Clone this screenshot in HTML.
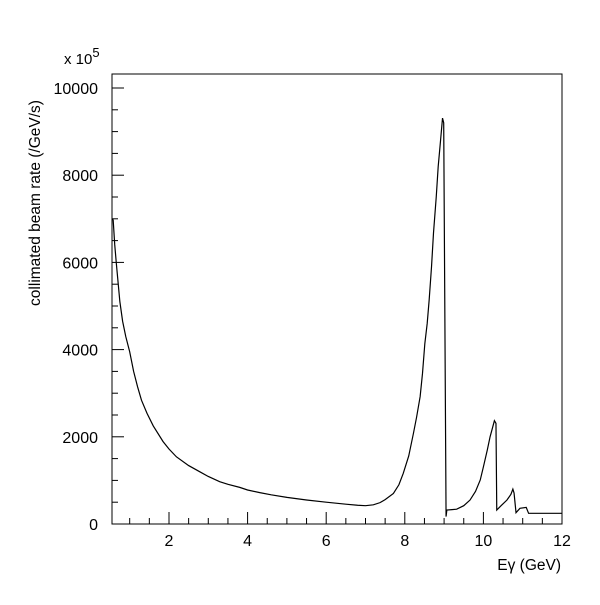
<!DOCTYPE html>
<html><head><meta charset="utf-8"><style>
body{margin:0;background:#fff}
svg text{font-family:"Liberation Sans",sans-serif;fill:#000}
</style></head><body>
<svg id="c" width="600" height="600" xmlns="http://www.w3.org/2000/svg"></svg>
<script>
const xs=[0.56,0.58,0.62,0.66,0.75,0.82,0.9,1.0,1.1,1.2,1.3,1.44,1.6,1.85,2.0,2.19,2.5,2.78,3.0,3.29,3.5,3.8,4.0,4.31,4.6,5,5.5,6,6.5,6.8,7,7.2,7.37,7.5,7.71,7.85,7.96,8.1,8.22,8.3,8.39,8.45,8.51,8.57,8.62,8.68,8.73,8.8,8.85,8.91,8.96,8.99,9.05,9.07,9.2,9.32,9.5,9.66,9.8,9.92,10.0,10.1,10.17,10.23,10.28,10.32,10.34,10.45,10.6,10.7,10.75,10.78,10.83,10.93,11.09,11.15,11.27,12];
const ys=[7000,6970,6400,5980,5100,4650,4300,3950,3500,3150,2840,2540,2250,1890,1720,1540,1340,1200,1090,970,910,840,780,720,670,610,550,500,455,430,420,440,490,560,700,900,1160,1560,2080,2450,2920,3450,4140,4600,5140,5900,6670,7500,8200,8800,9310,9200,170,320,330,340,420,550,750,1010,1310,1700,2000,2200,2370,2310,320,420,550,680,800,710,260,360,380,245,245,245];
const xTicks=[2,4,6,8,10,12];
const yTicks=[0,2000,4000,6000,8000,10000];
const X0=0.55,X1=12,L=112,R=562,T=74,B=524;
const sx=v=>L+(v-X0)*(R-L)/(X1-X0);
const sy=v=>B-v*0.0436;
const svg=document.getElementById('c');
const NS='http://www.w3.org/2000/svg';
function mk(t,a){const e=document.createElementNS(NS,t);for(const k in a)e.setAttribute(k,a[k]);svg.appendChild(e);return e;}
const fr=mk('rect',{x:L,y:T,width:R-L,height:B-T,fill:'none',stroke:'#000','stroke-width':1});


for(let v=1;v<=12;v+=0.5){if(v<X0)continue;const x=sx(v);const big=Number.isInteger(v)&&v%2==0;
const t=mk('line',{x1:x,x2:x,y1:B,y2:B-(big?12:6),stroke:'#000'});

}
xTicks.forEach(v=>{const t=mk('text',{x:sx(v),y:B+22,'text-anchor':'middle','font-size':16});t.textContent=v;

});
for(let v=0;v<=10000;v+=500){const y=sy(v);const big=v%2000==0;
const t=mk('line',{x1:L,x2:L+(big?12:6),y1:y,y2:y,stroke:'#000'});

}
yTicks.forEach(v=>{const t=mk('text',{x:98,y:sy(v)+6,'text-anchor':'end','font-size':16});t.textContent=v;

});
const p=mk('polyline',{points:xs.map((x,i)=>sx(x)+','+sy(ys[i])).join(' '),fill:'none',stroke:'#000','stroke-width':1.2});


</script>
<svg style="position:absolute;left:0;top:0" width="600" height="600" xmlns="http://www.w3.org/2000/svg">
<text x="64" y="64" font-size="15">x 10<tspan dy="-7" font-size="13">5</tspan></text>
<text transform="translate(40,203) rotate(-90)" text-anchor="middle" font-size="15.5">collimated beam rate (/GeV/s)</text>
<text x="561" y="570" text-anchor="end" font-size="15.5">Eγ (GeV)</text>
</svg>
</body></html>
